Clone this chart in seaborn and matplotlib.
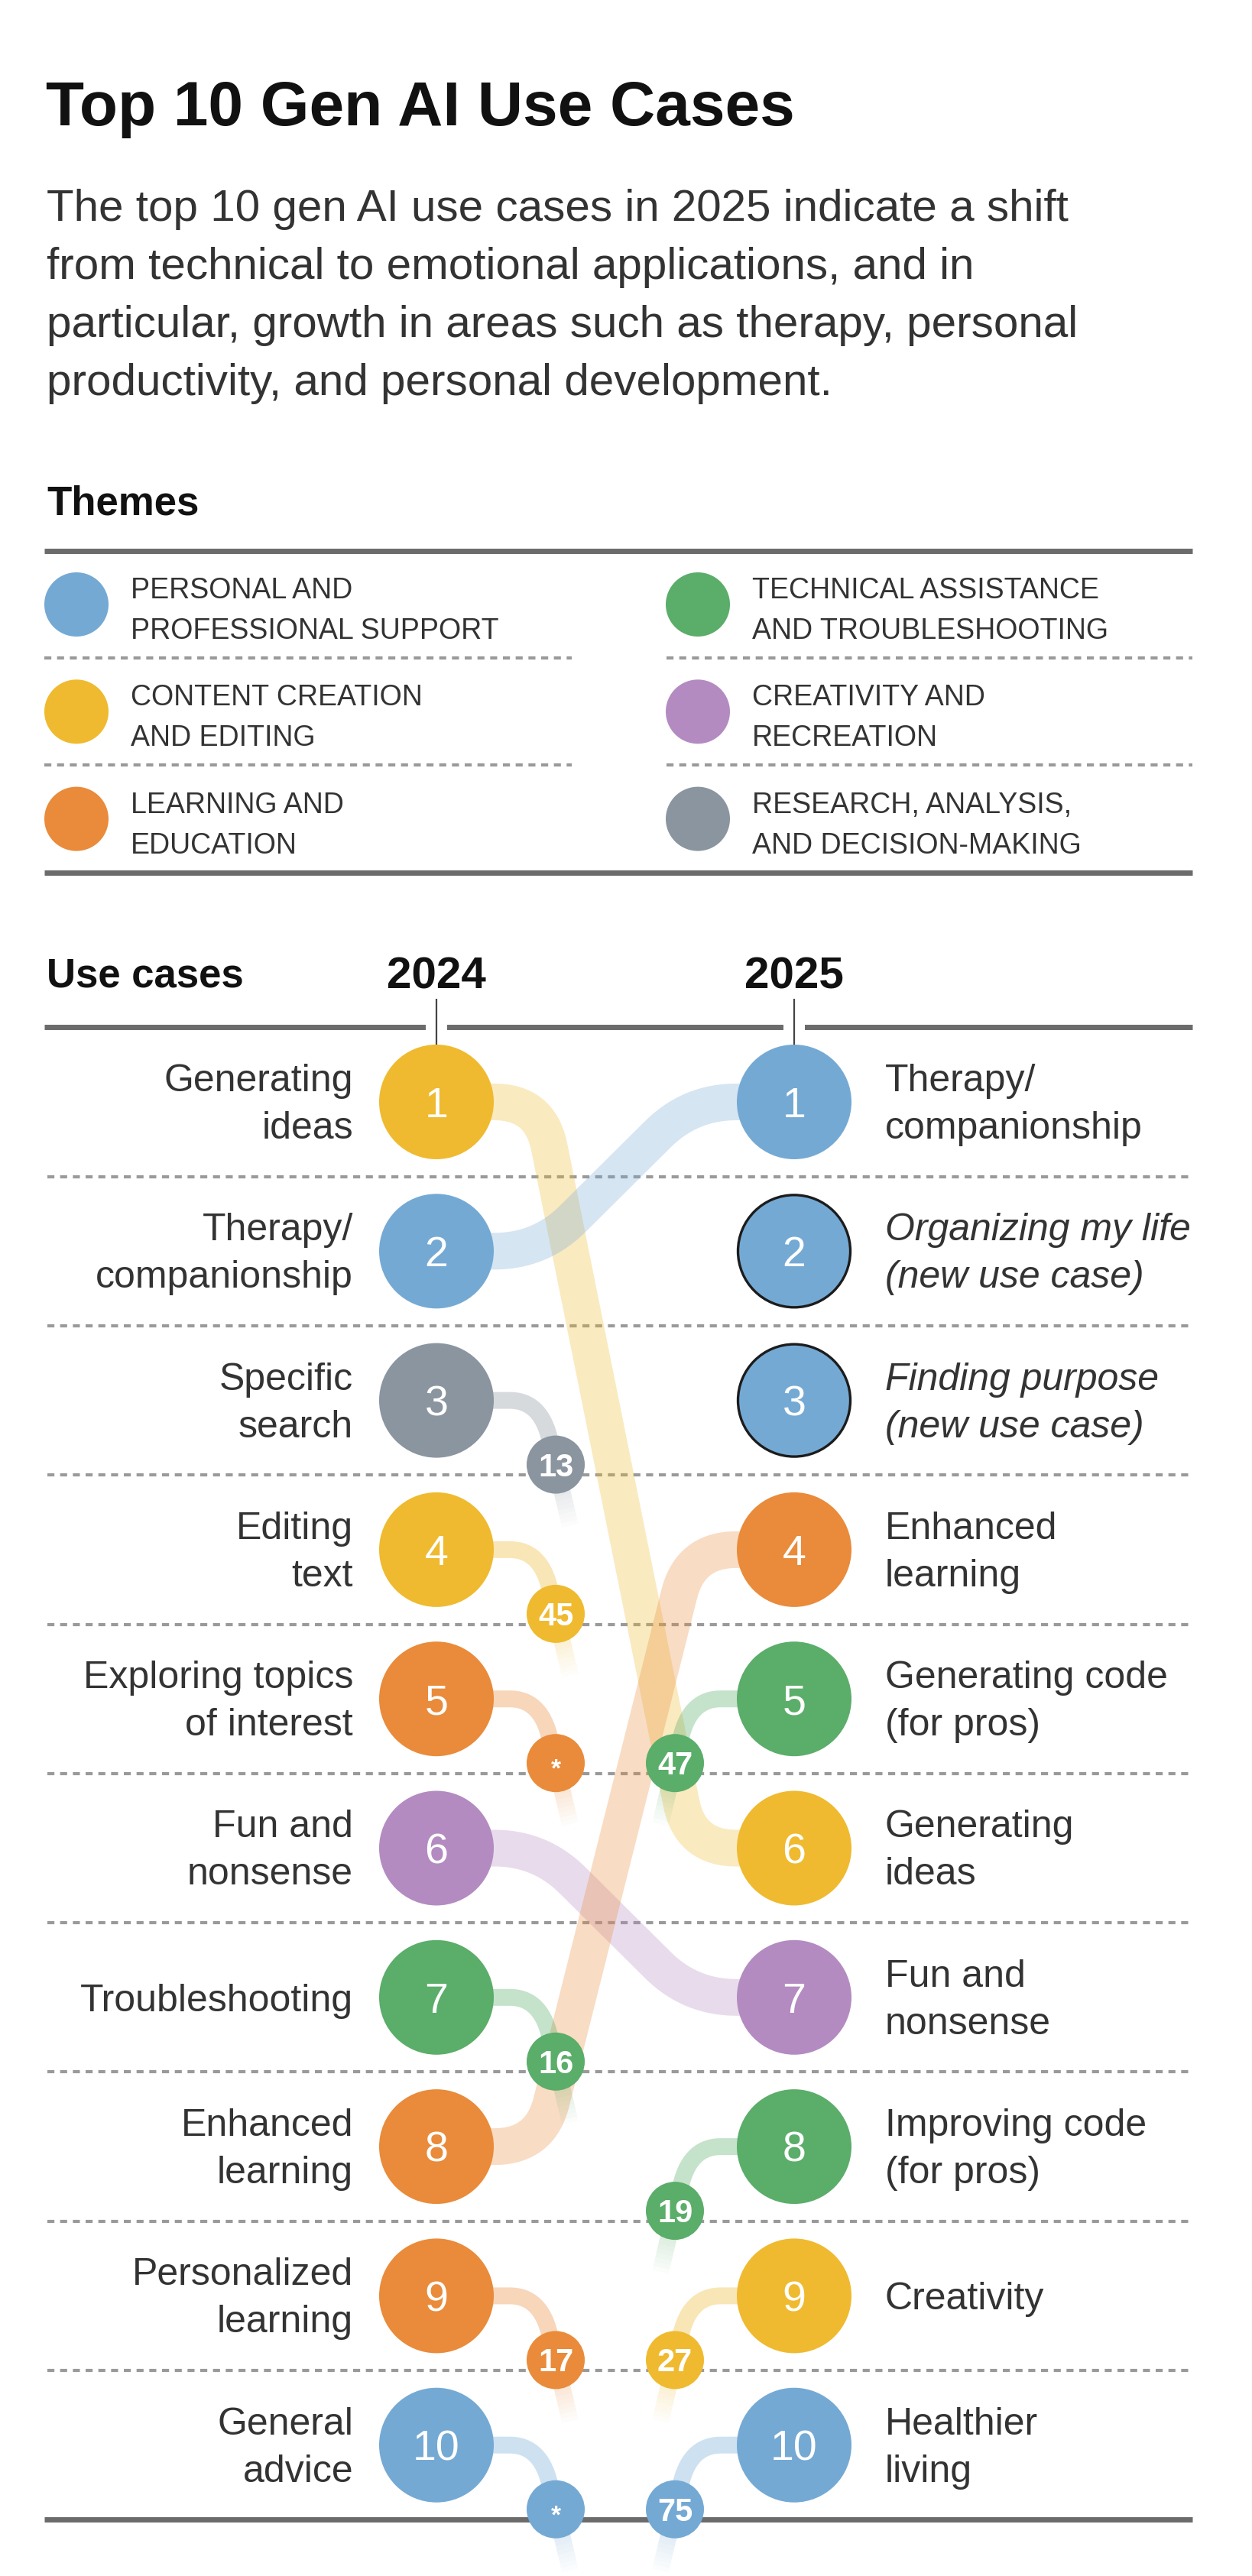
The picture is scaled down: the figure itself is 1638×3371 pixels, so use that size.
import numpy as np
import pandas as pd
import matplotlib
matplotlib.use('Agg')
import matplotlib.pyplot as plt
from matplotlib import font_manager
from matplotlib import patheffects as pe
from matplotlib.collections import LineCollection
import seaborn as sns


#%%
# data
themes = ['personal', 'content', 'learning', 'technical', 'creativity', 'research']
theme_names = ['PERSONAL AND\nPROFESSIONAL SUPPORT', 'CONTENT CREATION\nAND EDITING',
               'LEARNING AND\nEDUCATION', 'TECHNICAL ASSISTANCE\nAND TROUBLESHOOTING',
               'CREATIVITY AND\nRECREATION', 'RESEARCH, ANALYSIS,\nAND DECISION-MAKING']
theme_colors = ['#74A9D4', '#EFBA2F', '#E98B3A', '#5BAD6A', '#B38BC1', '#8A959F']

ranks = list(range(1, 11))

labels_2024 = ['Generating\nideas', 'Therapy/\ncompanionship', 'Specific\nsearch', 'Editing\ntext',
               'Exploring topics\nof interest', 'Fun and\nnonsense', 'Troubleshooting',
               'Enhanced\nlearning', 'Personalized\nlearning', 'General\nadvice']
themes_2024 = ['content', 'personal', 'research', 'content', 'learning', 'creativity',
               'technical', 'learning', 'learning', 'personal']
rank_in_2025 = ['6', '1', '13', '45', '*', '7', '16', '4', '17', '*']

labels_2025 = ['Therapy/\ncompanionship', 'Organizing my life\n(new use case)',
               'Finding purpose\n(new use case)', 'Enhanced\nlearning', 'Generating code\n(for pros)',
               'Generating\nideas', 'Fun and\nnonsense', 'Improving code\n(for pros)', 'Creativity',
               'Healthier\nliving']
themes_2025 = ['personal', 'personal', 'personal', 'learning', 'technical', 'content',
               'creativity', 'technical', 'content', 'personal']
rank_in_2024 = ['2', 'new', 'new', '8', '47', '1', '6', '19', '27', '75']

pal = dict(zip(themes, theme_colors))


#%%
# layout helpers (pixels)
W, H, DPI = 1638, 3371, 100
def pt(px):
    return px * 72.0 / DPI
def fy(y):
    return 1 - y / H

def has_font(name):
    try:
        font_manager.findfont(font_manager.FontProperties(family=name), fallback_to_default=False)
        return True
    except Exception:
        return False

sns.set_theme(style='white')
plt.rcParams['font.family'] = ['Liberation Sans', 'DejaVu Sans']
narrow = has_font('Liberation Sans Narrow')

fig = plt.figure(figsize=(W / DPI, H / DPI), dpi=DPI)
fig.patch.set_facecolor('white')

ink = '#111111'
txt = '#333333'

# title block
fig.text(60 / W, fy(164), 'Top 10 Gen AI Use Cases', fontsize=59, weight='bold',
         color=ink, va='baseline')
sub = ['The top 10 gen AI use cases in 2025 indicate a shift',
       'from technical to emotional applications, and in',
       'particular, growth in areas such as therapy, personal',
       'productivity, and personal development.']
for i, line in enumerate(sub):
    fig.text(61 / W, fy(289 + 76 * i), line, fontsize=42, color=txt, va='baseline')
fig.text(61 / W, fy(673), 'Themes', fontsize=38, weight='bold', color=ink, va='baseline')


#%%
# legend of themes
LX0, LUX = 100, 813
LY0, LUY = 791, 140.3
ltop, lbot = LY0 - 0.5 * LUY, LY0 + 2.5 * LUY
axl = fig.add_axes([0, 1 - lbot / H, 1, (lbot - ltop) / H])

def lx(px):
    return (px - LX0) / LUX

leg = pd.DataFrame({'col': [i // 3 for i in range(6)], 'row': [i % 3 for i in range(6)],
                    'theme': themes, 'name': theme_names})
sns.scatterplot(data=leg, x='col', y='row', hue='theme', palette=pal, s=pt(84) ** 2,
                linewidth=0, legend=False, ax=axl, clip_on=False, zorder=3)
for r in [0.5, 1.5]:
    axl.plot([lx(58), lx(748)], [r, r], color='#9a9a9a', lw=3, ls=(0, (2.2, 1.8)), zorder=1)
    axl.plot([lx(872), lx(1560)], [r, r], color='#9a9a9a', lw=3, ls=(0, (2.2, 1.8)), zorder=1)
for r in [-0.5, 2.5]:
    axl.plot([lx(58), lx(1560)], [r, r], color='#6b6b6b', lw=5, zorder=1, clip_on=False,
             solid_capstyle='butt')
leg_font = dict(family=['Liberation Sans Narrow', 'DejaVu Sans'], fontsize=32) if narrow \
    else dict(fontsize=27)
for _, row in leg.iterrows():
    for line, off in zip(row['name'].split('\n'), [-8, 45]):
        axl.text(row['col'] + lx(171), row['row'] + off / LUY, line, va='baseline',
                 color=txt, **leg_font)
axl.set_xlim(lx(0), lx(W))
axl.set_ylim(2.5, -0.5)
axl.axis('off')


#%%
# main slope chart
X0, UX = 571, 468.0
Y1, UY = 1442, 195.3
mtop, mbot = Y1 - 0.5 * UY, Y1 + 9.5 * UY
ax = fig.add_axes([0, 1 - mbot / H, 1, (mbot - mtop) / H])

def mx(px):
    return (px - X0) / UX
def my(py):
    return 1 + (py - Y1) / UY

R_BIG = 75
R_SMALL = 38
OFF = 84          # small circle drop below row centre, px
XS = UX / 3       # small circle x offset from the 2024 column, px

# header
ax.text(mx(61), my(1292), 'Use cases', fontsize=38, weight='bold', color=ink, va='baseline')
for xcol, yr in [(0, '2024'), (1, '2025')]:
    ax.text(xcol, my(1293), yr, fontsize=42, weight='bold', color=ink, ha='center',
            va='baseline')
    ax.plot([xcol, xcol], [my(1307), 1 - R_BIG / UY], color='#444444', lw=1.6,
            solid_capstyle='butt', clip_on=False, zorder=2,
            path_effects=[pe.withStroke(linewidth=pt(28), foreground='white')])

# separators
for r in np.arange(1.5, 10, 1):
    ax.plot([mx(62), mx(1560)], [r, r], color='#9a9a9a', lw=3, ls=(0, (2.2, 1.8)), zorder=1)
for r in [0.5, 10.5]:
    ax.plot([mx(58), mx(1560)], [r, r], color='#6b6b6b', lw=5, zorder=1, clip_on=False,
            solid_capstyle='butt')


def bez(p0, p1, p2, n=24):
    t = np.linspace(0, 1, n)[:, None]
    return (1 - t) ** 2 * p0 + 2 * (1 - t) * t * p1 + t ** 2 * p2

def rounded(pts, d):
    pts = [np.array(p, float) for p in pts]
    out = [pts[0]]
    for i in range(1, len(pts) - 1):
        a, b, c = pts[i - 1], pts[i], pts[i + 1]
        la, lc = np.linalg.norm(b - a), np.linalg.norm(c - b)
        dd = min(d, la / 2, lc / 2)
        out.extend(bez(b - dd * (b - a) / la, b, b + dd * (c - b) / lc))
    out.append(pts[-1])
    return np.array(out)

def flow_path(r1, r2):
    pts = [(0, r1 * UY), (0.29 * UX, r1 * UY), (0.71 * UX, r2 * UY), (UX, r2 * UY)]
    return rounded(pts, 60)

def stub_path(r, side):
    y = r * UY
    p = np.vstack([[0, y], [XS - 60, y],
                   bez(np.array([XS - 60, y]), np.array([XS - 20, y]), np.array([XS - 8, y + 50])),
                   [XS, y + OFF]])
    fade = np.array([[XS, y + OFF], [XS + 19, y + OFF + 80]])
    if side == 1:
        p[:, 0] = UX - p[:, 0]
        fade[:, 0] = UX - fade[:, 0]
    return p, fade


# flows between the two years
flows, stubs, fades, smalls = [], [], [], []
for r, th, nxt in zip(ranks, themes_2024, rank_in_2025):
    if nxt.isdigit() and int(nxt) <= 10:
        p = flow_path(r, int(nxt))
        flows.append(pd.DataFrame({'x': p[:, 0] / UX, 'y': p[:, 1] / UY, 'theme': th,
                                   'pid': 'f%d' % r}))
    else:
        p, f = stub_path(r, 0)
        stubs.append(pd.DataFrame({'x': p[:, 0] / UX, 'y': p[:, 1] / UY, 'theme': th,
                                   'pid': 'a%d' % r}))
        fades.append((f[:, 0] / UX, f[:, 1] / UY, th))
        smalls.append((XS / UX, r + OFF / UY, th, nxt))
for r, th, prv in zip(ranks, themes_2025, rank_in_2024):
    if prv == 'new' or int(prv) <= 10:
        continue
    p, f = stub_path(r, 1)
    stubs.append(pd.DataFrame({'x': p[:, 0] / UX, 'y': p[:, 1] / UY, 'theme': th,
                               'pid': 'b%d' % r}))
    fades.append((f[:, 0] / UX, f[:, 1] / UY, th))
    smalls.append((1 - XS / UX, r + OFF / UY, th, prv))

flows = pd.concat(flows, ignore_index=True)
stubs = pd.concat(stubs, ignore_index=True)

sns.lineplot(data=flows, x='x', y='y', hue='theme', units='pid', estimator=None, sort=False,
             palette=pal, linewidth=pt(48), alpha=0.3, legend=False, ax=ax, zorder=2,
             solid_capstyle='butt', solid_joinstyle='round')
sns.lineplot(data=stubs, x='x', y='y', hue='theme', units='pid', estimator=None, sort=False,
             palette=pal, linewidth=pt(22), alpha=0.35, legend=False, ax=ax, zorder=2,
             solid_capstyle='butt', solid_joinstyle='round', clip_on=False)

# fading tails of the stubs
for fxs, fys, th in fades:
    n = 14
    xs = np.linspace(fxs[0], fxs[1], n + 1)
    ys = np.linspace(fys[0], fys[1], n + 1)
    segs = [[(xs[i], ys[i]), (xs[i + 1], ys[i + 1])] for i in range(n)]
    base = matplotlib.colors.to_rgb(pal[th])
    cols = [(*base, 0.35 * (1 - i / n)) for i in range(n)]
    lc = LineCollection(segs, colors=cols, linewidths=pt(22), capstyle='butt', zorder=2)
    lc.set_clip_on(False)
    ax.add_collection(lc)

# big circles
big24 = pd.DataFrame({'x': 0, 'y': ranks, 'theme': themes_2024})
big25 = pd.DataFrame({'x': 1, 'y': ranks, 'theme': themes_2025,
                      'new': [v == 'new' for v in rank_in_2024]})
sns.scatterplot(data=big24, x='x', y='y', hue='theme', palette=pal, s=pt(2 * R_BIG) ** 2,
                linewidth=0, legend=False, ax=ax, zorder=4)
sns.scatterplot(data=big25[~big25['new']], x='x', y='y', hue='theme', palette=pal,
                s=pt(2 * R_BIG) ** 2, linewidth=0, legend=False, ax=ax, zorder=4)
sns.scatterplot(data=big25[big25['new']], x='x', y='y', hue='theme', palette=pal,
                s=pt(2 * R_BIG - 3) ** 2, linewidth=2.4, edgecolor='#1c1c1c', legend=False,
                ax=ax, zorder=4)

# small circles for ranks outside the top 10
sm = pd.DataFrame(smalls, columns=['x', 'y', 'theme', 'lab'])
sns.scatterplot(data=sm, x='x', y='y', hue='theme', palette=pal, s=pt(2 * R_SMALL) ** 2,
                linewidth=0, legend=False, ax=ax, zorder=5, clip_on=False)

# numbers
num_size = 40
num_cap = 0.716 * num_size * DPI / 72
for xcol in [0, 1]:
    for r in ranks:
        ax.text(xcol, r + num_cap / 2 / UY, str(r), fontsize=num_size, color='white',
                ha='center', va='baseline', zorder=6)
sm_size = 30
sm_cap = 0.716 * sm_size * DPI / 72
for _, row in sm.iterrows():
    if row['lab'] == '*':
        ax.text(row['x'], row['y'] + 9 / UY, '*', fontsize=24, color='white', weight='bold',
                ha='center', va='center', zorder=6, clip_on=False)
    else:
        ax.text(row['x'], row['y'] + sm_cap / 2 / UY, row['lab'], fontsize=sm_size,
                color='white', weight='bold', ha='center', va='baseline', zorder=6,
                clip_on=False)

# row labels
lab_size = 36
lab_cap = 0.716 * lab_size * DPI / 72
def put_label(x, r, text, ha, style='normal'):
    lines = text.split('\n')
    offs = [lab_cap / 2] if len(lines) == 1 else [-14, 48]
    for line, o in zip(lines, offs):
        ax.text(x, r + o / UY, line, ha=ha, va='baseline', fontsize=lab_size, color=txt,
                style=style, zorder=6)

for r, lab in zip(ranks, labels_2024):
    put_label(mx(462), r, lab, 'right')
for r, lab, prv in zip(ranks, labels_2025, rank_in_2024):
    put_label(mx(1158), r, lab, 'left', 'italic' if prv == 'new' else 'normal')

ax.set_xlim(mx(0), mx(W))
ax.set_ylim(10.5, 0.5)
ax.axis('off')

fig.savefig('out.png', dpi=DPI, facecolor='white')
